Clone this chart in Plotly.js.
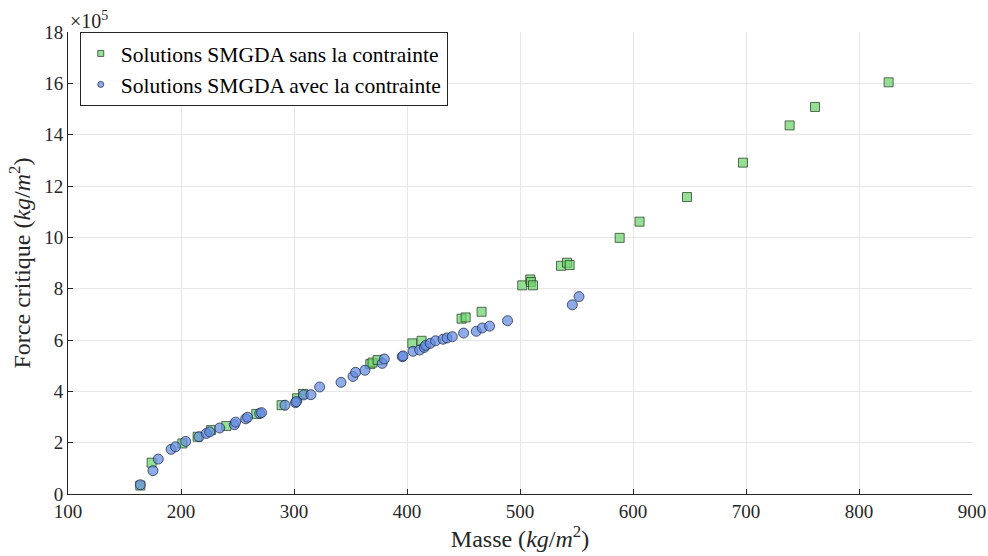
<!DOCTYPE html>
<html><head><meta charset="utf-8">
<script src="https://cdn.plot.ly/plotly-3.0.1.min.js"></script>
<style>html,body{margin:0;padding:0;background:#fff}#chart{width:988px;height:556px}</style>
</head><body><div id="chart"></div>
<script>
// Solutions SMGDA sans la contrainte (mass kg/m2, force x1e5)
const sansMasse = [164.0, 174.0, 201.2, 214.7, 226.5, 240.1, 266.6, 289.0, 302.7, 308.0, 367.5, 369.5, 374.0, 404.7, 412.9, 448.3, 451.9, 466.0, 502.0, 509.1, 509.7, 511.5, 536.3, 541.6, 543.9, 588.2, 605.8, 647.8, 697.3, 738.6, 761.1, 826.2];
const sansForce = [0.33, 1.22, 1.97, 2.23, 2.49, 2.65, 3.12, 3.46, 3.73, 3.90, 5.06, 5.12, 5.22, 5.87, 5.97, 6.83, 6.88, 7.10, 8.13, 8.36, 8.26, 8.13, 8.89, 9.01, 8.92, 9.98, 10.61, 11.57, 12.91, 14.36, 15.08, 16.04];
// Solutions SMGDA avec la contrainte
const avecMasse = [164.0, 175.2, 179.9, 191.2, 195.2, 204.1, 215.9, 222.4, 225.3, 234.2, 247.2, 248.3, 257.2, 258.9, 269.6, 271.3, 292.0, 301.4, 302.0, 308.5, 315.0, 322.7, 341.6, 352.2, 354.5, 362.8, 378.1, 379.9, 395.8, 396.5, 405.3, 411.2, 415.3, 416.5, 420.6, 425.3, 431.9, 435.4, 440.1, 450.1, 461.3, 466.6, 473.1, 489.0, 546.3, 552.2];
const avecForce = [0.36, 0.91, 1.36, 1.74, 1.84, 2.05, 2.23, 2.36, 2.42, 2.57, 2.70, 2.80, 2.93, 2.99, 3.14, 3.17, 3.46, 3.56, 3.60, 3.86, 3.87, 4.17, 4.35, 4.58, 4.74, 4.82, 5.09, 5.26, 5.35, 5.38, 5.56, 5.61, 5.71, 5.79, 5.87, 5.97, 6.03, 6.08, 6.13, 6.27, 6.34, 6.47, 6.54, 6.75, 7.37, 7.69];
const seriesNames = ['Solutions SMGDA sans la contrainte', 'Solutions SMGDA avec la contrainte'];
const xTicks = [100, 200, 300, 400, 500, 600, 700, 800, 900];
const yTicks = [0, 2, 4, 6, 8, 10, 12, 14, 16, 18];

const F = "Liberation Serif, DejaVu Serif, serif";
const sqStyle = {symbol: 'square', color: 'rgba(110,212,110,0.72)', line: {color: 'rgba(40,60,40,0.75)', width: 1}};
const ciStyle = {symbol: 'circle', color: 'rgba(100,140,225,0.72)', line: {color: 'rgba(30,40,70,0.75)', width: 1}};
const traces = [
  {x: sansMasse, y: sansForce, type: 'scatter', mode: 'markers', name: seriesNames[0], showlegend: false,
   marker: Object.assign({size: 9}, sqStyle)},
  {x: avecMasse, y: avecForce, type: 'scatter', mode: 'markers', name: seriesNames[1], showlegend: false,
   marker: Object.assign({size: 10}, ciStyle)},
  // legend entries (small markers like the reference)
  {x: [null], y: [null], type: 'scatter', mode: 'markers', name: seriesNames[0], marker: Object.assign({size: 6}, sqStyle)},
  {x: [null], y: [null], type: 'scatter', mode: 'markers', name: seriesNames[1], marker: Object.assign({size: 6}, ciStyle)}
];
const layout = {
  width: 988, height: 556,
  margin: {l: 68, r: 16, t: 32, b: 62},
  paper_bgcolor: '#fff', plot_bgcolor: '#fff',
  font: {family: F, size: 19, color: '#262626'},
  showlegend: true,
  legend: {x: 0.013, y: 0.92, xanchor: 'left', yanchor: 'middle', bgcolor: '#fff',
           bordercolor: '#262626', borderwidth: 1, font: {family: F, size: 21.5, color: '#000'},
           itemsizing: 'trace', tracegroupgap: 0},
  xaxis: {range: [100, 900], tickvals: xTicks, ticktext: xTicks.map(String), ticks: 'inside', ticklen: 5,
          tickcolor: '#262626', showline: true, linecolor: '#262626', linewidth: 1, mirror: false,
          showgrid: true, gridcolor: '#e6e6e6', zeroline: false, tickfont: {family: F, size: 19, color: '#262626'},
          title: {text: 'Masse (<i>kg</i>/<i>m</i><sup>2</sup>)', font: {family: F, size: 24, color: '#262626'}, standoff: 4}},
  yaxis: {range: [0, 18], tickvals: yTicks, ticktext: yTicks.map(String), ticks: 'inside', ticklen: 5,
          tickcolor: '#262626', showline: true, linecolor: '#262626', linewidth: 1, mirror: false,
          showgrid: true, gridcolor: '#e6e6e6', zeroline: false, tickfont: {family: F, size: 19, color: '#262626'},
          title: {text: 'Force critique (<i>kg</i>/<i>m</i><sup>2</sup>)', font: {family: F, size: 24, color: '#262626'}, standoff: 6}},
  annotations: [{xref: 'paper', yref: 'paper', x: 0, y: 1, xanchor: 'left', yanchor: 'bottom', yshift: -2, xshift: 0,
                 text: '×10<sup>5</sup>', showarrow: false, font: {family: F, size: 20, color: '#262626'}}]
};
Plotly.newPlot('chart', traces, layout, {displayModeBar: false, staticPlot: true});
</script></body></html>
